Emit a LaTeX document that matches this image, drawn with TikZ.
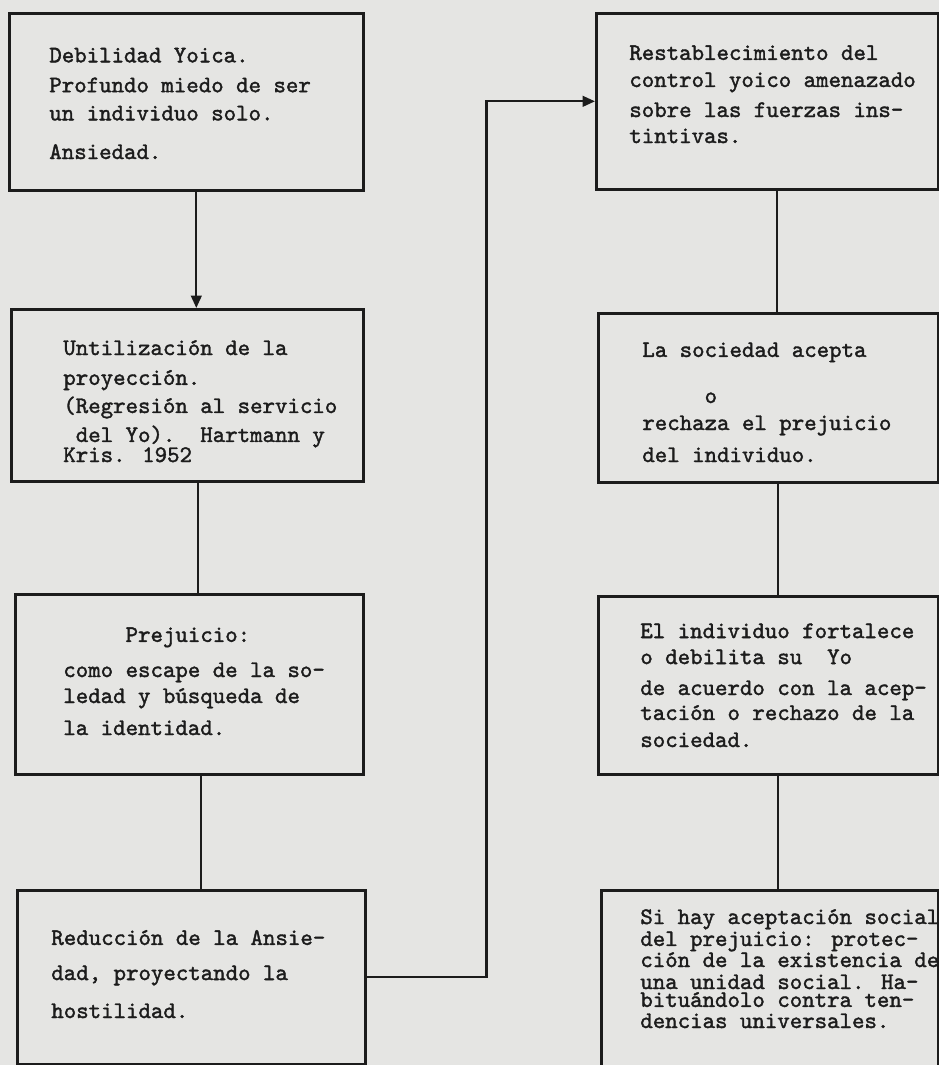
\documentclass[tikz,border=0pt]{standalone}
\usepackage{fontspec}
\usetikzlibrary{arrows.meta, calc}
\newfontfamily\maquina{lmmono10-regular.otf}[FakeBold=1.6]
\definecolor{papel}{RGB}{229,229,227}
\definecolor{tinta}{RGB}{28,28,28}
\setlength{\lineskiplimit}{-20pt}
\tikzset{
	caja/.style={draw=tinta, line width=1.5pt, anchor=north west, inner sep=0pt},
	texto/.style={anchor=base west, align=left, inner sep=0pt, text=tinta,
		font=\fontsize{13.5}{16}\selectfont\maquina},
	linea/.style={draw=tinta, line width=1.3pt},
	flecha/.style={linea, -{Triangle[length=7pt,width=6pt]}}
}
\newcommand{\caja}[5]{
	\node[caja, minimum width={(#4-#2)*0.02cm}, minimum height={(#5-#3)*0.02cm}] (#1) at (#2,#3) {};
}

\begin{document}
\begin{tikzpicture}[x=0.02cm, y=-0.02cm]
	\path[fill=papel, use as bounding box] (0,0) rectangle (939,1065);
	\clip (0,0) rectangle (939,1065);
	% Left column
	\caja{debilidad}{8}{12}{362}{189}
	\caja{utilizacion}{10}{308}{362}{480}
	\caja{prejuicio}{14}{593}{362}{773}
	\caja{reduccion}{16}{889}{364}{1063}
	% Right column
	\caja{control}{595}{12}{937}{188}
	\caja{sociedad}{597}{312}{937}{481}
	\caja{yo}{597}{595}{937}{773}
	\caja{aceptacion}{600}{889}{937}{1080}

	% texts, placed at the baseline of their last line
	\node[texto] (debilidad-txt) at (49,159) {Debilidad Yoica.\\[1pt]Profundo miedo de ser\\un individuo solo.\\[6pt]Ansiedad.};
	\node[texto] (utilizacion-txt) at (63,462) {Untilización de la\\[1pt]proyección.\\(Regresión al servicio\\[0.5pt]\ del Yo).\ \ Hartmann y\\[-4.6pt]Kris. 1952};
	\node[texto] (prejuicio-txt) at (63,735) {\ \ \ \ \ Prejuicio:\\[4pt]como escape de la so-\\[-1.2pt]ledad y búsqueda de\\[2.2pt]la identidad.};
	\node[texto] (reduccion-txt) at (51,1018) {Reducción de la Ansie-\\[4pt]dad, proyectando la\\[5.6pt]hostilidad.};
	\node[texto] (control-txt) at (629,143) {Restablecimiento del\\[-0.6pt]control yoico amenazado\\[1.1pt]sobre las fuerzas ins-\\[-1.2pt]tintivas.};
	\node[texto] (sociedad-txt) at (642,462) {La sociedad acepta\\[10.2pt]\ \ \ \ \ o\\[-0.6pt]rechaza el prejuicio\\[2.2pt]del individuo.};
	\node[texto] (yo-txt) at (640,747) {El individuo fortalece\\[-1.2pt]o debilita su\ \ Yo\\[1.6pt]de acuerdo con la acep-\\[-1.8pt]tación o rechazo de la\\[-0.6pt]sociedad.};
	\node[texto] (aceptacion-txt) at (640,1028) {Si hay aceptación social\\[-3.5pt]del prejuicio: protec-\\[-4pt]ción de la existencia de\\[-3.5pt]una unidad social. Ha-\\[-5.8pt]bituándolo contra ten-\\[-4pt]dencias universales.};

	% Connectors
	\draw[flecha] ([xshift=0.2cm]debilidad.south) -- ([xshift=0.2cm]debilidad.south |- utilizacion.north);
	\draw[linea] ([xshift=0.22cm]utilizacion.south) -- ([xshift=0.22cm]utilizacion.south |- prejuicio.north);
	\draw[linea] ([xshift=0.24cm]prejuicio.south) -- ([xshift=0.24cm]prejuicio.south |- reduccion.north);
	\draw[flecha] (reduccion.east) -- ++(120,0) |- (control.west);
	\draw[linea] ([xshift=0.2cm]control.south) -- ([xshift=0.2cm]control.south |- sociedad.north);
	\draw[linea] ([xshift=0.2cm]sociedad.south) -- ([xshift=0.2cm]sociedad.south |- yo.north);
	\draw[linea] ([xshift=0.2cm]yo.south) -- ([xshift=0.2cm]yo.south |- aceptacion.north);
\end{tikzpicture}
\end{document}
